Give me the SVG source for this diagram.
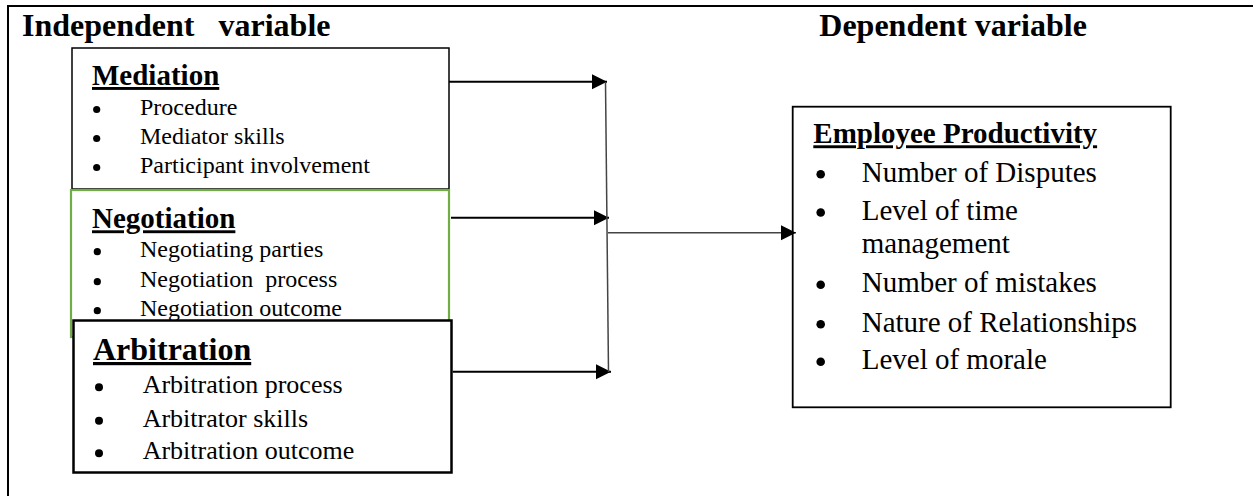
<svg xmlns="http://www.w3.org/2000/svg" width="1253" height="496" viewBox="0 0 1253 496">
<style>
.t{font-family:"Liberation Serif","Times New Roman",serif;fill:#000;white-space:pre}
.h{font-weight:bold;text-decoration:underline}
.ttl{font-weight:bold;font-size:32px}
.i24{font-size:24px}
.i26{font-size:26px}
.i29{font-size:29px}
.box{fill:#fff;stroke:#000}
.con{fill:none;stroke:#000;stroke-width:2}
.con2{fill:none;stroke:#444;stroke-width:1.5}
</style>
<defs>
<marker id="ah" markerUnits="userSpaceOnUse" markerWidth="16" markerHeight="16" refX="15" refY="7.5" orient="auto">
<path d="M0,0 L15,7.5 L0,15 Z" fill="#000"/>
</marker>
</defs>
<rect width="1253" height="496" fill="#fff"/>
<g id="frame">
<path d="M8,496 V6 H1253" fill="none" stroke="#000" stroke-width="2"/>
<text class="t ttl" x="22" y="35.7">Independent   variable</text>
<text class="t ttl" x="819.3" y="35.7">Dependent variable</text>
</g>
<g id="node-mediation">
<rect class="box" x="72" y="48" width="377" height="141" stroke-width="1.5"/>
<text class="t h" x="92" y="85" font-size="29">Mediation</text>
<circle cx="96.7" cy="109.5" r="3.6"/>
<circle cx="96.7" cy="138.5" r="3.6"/>
<circle cx="96.7" cy="167.5" r="3.6"/>
<text class="t i24" x="140" y="115">Procedure</text>
<text class="t i24" x="140" y="144">Mediator skills</text>
<text class="t i24" x="140" y="173">Participant involvement</text>
</g>
<g id="node-negotiation">
<rect x="71" y="190" width="378" height="147" fill="#fff" stroke="#70AD47" stroke-width="2.2"/>
<text class="t h" x="92" y="228.3" font-size="29">Negotiation</text>
<circle cx="97.3" cy="251.7" r="3.6"/>
<circle cx="97.3" cy="281.7" r="3.6"/>
<circle cx="97.3" cy="310.7" r="3.6"/>
<text class="t i24" x="140" y="257.3">Negotiating parties</text>
<text class="t i24" x="140" y="287.3">Negotiation  process</text>
<text class="t i24" x="140" y="316.3">Negotiation outcome</text>
</g>
<g id="node-arbitration">
<rect class="box" x="73.5" y="320.5" width="378" height="152" stroke-width="2.5"/>
<text class="t h" x="93" y="360" font-size="32">Arbitration</text>
<circle cx="99" cy="387.3" r="4"/>
<circle cx="99" cy="420.7" r="4"/>
<circle cx="99" cy="453.3" r="4"/>
<text class="t i26" x="142.7" y="393.3">Arbitration process</text>
<text class="t i26" x="142.7" y="426.7">Arbitrator skills</text>
<text class="t i26" x="142.7" y="459.3">Arbitration outcome</text>
</g>
<g id="node-productivity">
<rect class="box" x="792.7" y="106.7" width="378" height="300.6" stroke-width="1.8"/>
<text class="t h" x="813.3" y="143.3" font-size="29">Employee Productivity</text>
<circle cx="820.7" cy="174.2" r="4.3"/>
<circle cx="820.7" cy="212.5" r="4.3"/>
<circle cx="820.7" cy="284.8" r="4.3"/>
<circle cx="820.7" cy="324.2" r="4.3"/>
<circle cx="820.7" cy="361.8" r="4.3"/>
<text class="t i29" x="861.7" y="181.7">Number of Disputes</text>
<text class="t i29" x="861.7" y="220">Level of time</text>
<text class="t i29" x="861.7" y="253.3">management</text>
<text class="t i29" x="861.7" y="292.3">Number of mistakes</text>
<text class="t i29" x="861.7" y="331.7">Nature of Relationships</text>
<text class="t i29" x="861.7" y="369.3">Level of morale</text>
</g>
<g id="connectors">
<line class="con" x1="449" y1="81.7" x2="607" y2="81.7" marker-end="url(#ah)"/>
<line class="con" x1="451" y1="217.7" x2="609" y2="217.7" marker-end="url(#ah)"/>
<line class="con" x1="452.7" y1="371.7" x2="611" y2="371.7" marker-end="url(#ah)"/>
<line class="con2" x1="605.5" y1="82" x2="608.5" y2="372"/>
<line class="con2" x1="608" y1="232.7" x2="796" y2="232.7" marker-end="url(#ah)"/>
</g>
</svg>
